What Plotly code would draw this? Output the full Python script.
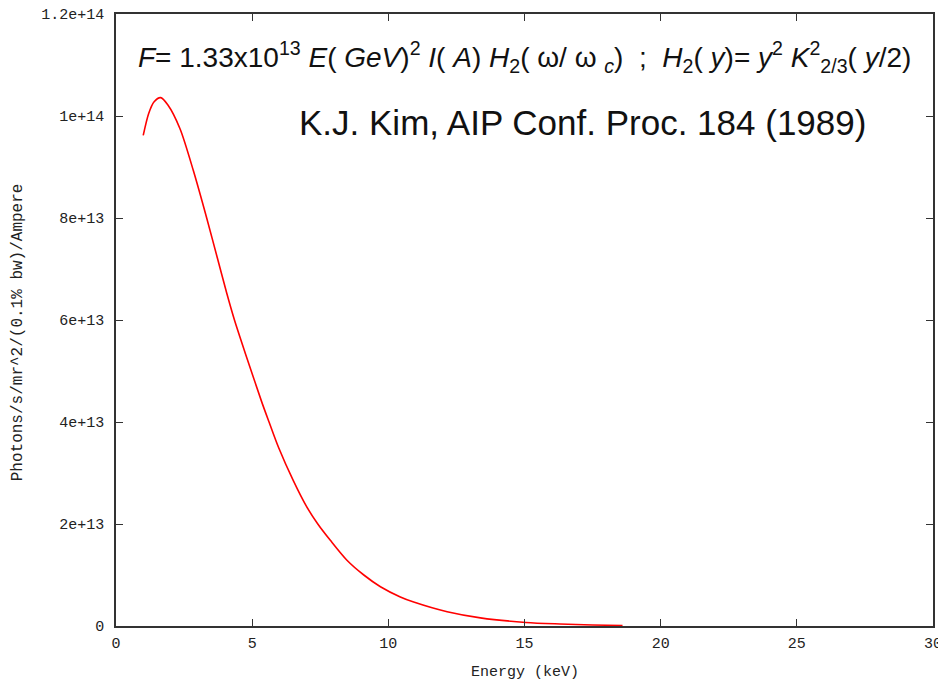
import plotly.graph_objects as go

# Data
energy_kev = [1.00, 1.20, 1.40, 1.64, 1.90, 2.35, 2.84, 3.33, 3.72, 4.07, 4.35, 4.74,
              5.36, 5.62, 5.97, 6.52, 7.00, 7.41, 7.87, 8.48, 9.10, 9.71, 10.44,
              10.93, 12.16, 13.38, 15.05, 16.30, 17.50, 18.60]
flux = [9.62e13, 10.05e13, 10.28e13, 10.36e13, 10.22e13, 9.75e13, 8.93e13, 8.00e13,
        7.22e13, 6.52e13, 6.00e13, 5.36e13, 4.38e13, 4.00e13, 3.50e13, 2.84e13,
        2.34e13, 2.00e13, 1.68e13, 1.29e13, 1.00e13, 0.77e13, 0.57e13, 0.47e13,
        0.28e13, 0.16e13, 0.07e13, 0.04e13, 0.02e13, 0.01e13]

y_tickvals = [0, 2e13, 4e13, 6e13, 8e13, 1e14, 1.2e14]
y_ticktext = ["0", "2e+13", "4e+13", "6e+13", "8e+13", "1e+14", "1.2e+14"]
x_tickvals = [0, 5, 10, 15, 20, 25, 30]

formula = ("<i>F</i>= 1.33x10<sup>13</sup> <i>E</i>( <i>GeV</i>)<sup>2</sup> "
           "<i>I</i>( <i>A</i>) <i>H</i><sub>2</sub>( ω/ ω <sub><i>c</i></sub>)  ;  "
           "<i>H</i><sub>2</sub>( <i>y</i>)= <i>y</i><sup>2</sup> <i>K</i><sup>2</sup><sub>2/3</sub>( <i>y</i>/2)")
citation = "K.J. Kim, AIP Conf. Proc. 184 (1989)"
x_title = "Energy (keV)"
y_title = "Photons/s/mr^2/(0.1% bw)/Ampere"

fig = go.Figure()
fig.add_trace(go.Scatter(x=energy_kev, y=flux, mode="lines",
                         line=dict(color="#ff0000", width=1.6, shape="spline", smoothing=0.8),
                         showlegend=False))

mono = dict(family="Liberation Mono", size=15, color="#222222")
axis_common = dict(showgrid=False, zeroline=False, showline=True, linecolor="#333333",
                   linewidth=1.5, mirror="ticks", ticks="inside", ticklen=7,
                   tickcolor="#333333", tickwidth=1.2, tickfont=mono, automargin=False,
                   ticklabeloverflow="allow")

fig.update_xaxes(range=[0, 30], tickvals=x_tickvals, ticklabelstandoff=2, **axis_common)
fig.update_yaxes(range=[0, 1.2e14], tickvals=y_tickvals, ticktext=y_ticktext,
                 ticklabelstandoff=7, **axis_common)

# axis titles
fig.add_annotation(x=0.5, y=0, xref="paper", yref="paper", xanchor="center", yanchor="middle",
                   showarrow=False, text=x_title, font=mono, yshift=-46)
fig.add_annotation(x=0, y=0.48, xref="paper", yref="paper", xanchor="center", yanchor="middle",
                   showarrow=False, text=y_title, textangle=-90,
                   font=dict(family="Liberation Mono", size=16, color="#222222"), xshift=-98)

fig.add_annotation(x=0.5, y=1.0, xref="paper", yref="paper", xanchor="center",
                   yanchor="middle", showarrow=False, text=formula,
                   font=dict(family="Liberation Sans", size=28, color="#111111"),
                   yshift=-43)
fig.add_annotation(x=0.5716, y=1.0, xref="paper", yref="paper", xanchor="center",
                   yanchor="middle", showarrow=False, text=citation,
                   font=dict(family="Liberation Sans", size=35, color="#111111"),
                   yshift=-108)

fig.update_layout(width=946, height=684, plot_bgcolor="white", paper_bgcolor="white",
                  margin=dict(l=108, r=21, t=6, b=66))

fig.write_html("out.html")
